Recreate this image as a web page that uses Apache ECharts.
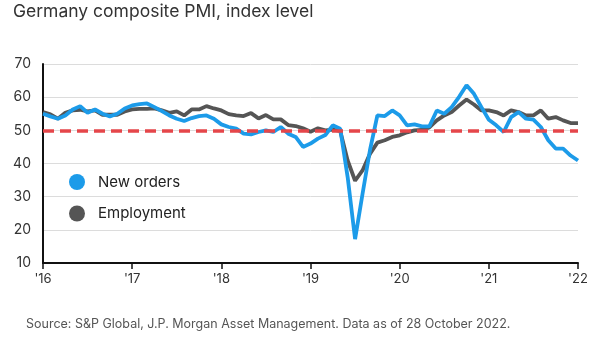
<!DOCTYPE html>
<html>
<head>
<meta charset="utf-8">
<script src="https://cdn.jsdelivr.net/npm/echarts@6/dist/echarts.min.js"></script>
<style>
html,body{margin:0;padding:0;background:#fff;}
#chart{width:600px;height:340px;}
</style>
</head>
<body>
<div id="chart"></div>
<script>
var titleText = 'Germany composite PMI, index level';
var sourceText = 'Source: S&P Global, J.P. Morgan Asset Management. Data as of 28 October 2022.';
var tickLabels = ["'16", "'17", "'18", "'19", "'20", "'21", "'22"];
var seriesNames = ['New orders', 'Employment'];
var threshold = 50;

var newOrders = [
  55.0, 54.2, 53.5, 54.5, 56.3, 57.3, 55.3, 56.3, 55.0, 54.2, 55.0, 56.6,
  57.5, 57.9, 58.1, 57.0, 55.8, 54.5, 53.5, 52.8, 53.7, 54.3, 54.5, 53.5,
  51.8, 51.0, 50.5, 49.0, 48.8, 49.5, 50.0, 49.5, 51.0, 49.0, 48.0, 45.0,
  46.0, 47.5, 48.6, 51.5, 50.5, 35.9, 17.2, 30.8, 44.0, 54.5, 54.3, 56.0,
  54.5, 51.5, 51.8, 51.2, 51.2, 56.0, 55.0, 57.0, 60.1, 63.6, 61.0, 57.0,
  53.2, 51.5, 49.5, 54.0, 55.5, 53.5, 53.2, 51.0, 47.0, 44.5, 44.5, 42.4,
  40.9
];
var employment = [
  55.5, 54.8, 53.5, 55.3, 56.0, 56.2, 55.7, 56.0, 54.7, 54.7, 54.7, 55.7,
  56.3, 56.5, 56.5, 56.6, 56.0, 55.3, 55.7, 54.5, 56.3, 56.3, 57.3, 56.6,
  56.0, 54.9, 54.5, 54.3, 55.2, 53.6, 54.6, 53.3, 53.3, 51.6, 51.3, 50.6,
  49.6, 50.6, 50.0, 50.2, 49.8, 40.9, 34.8, 37.9, 42.9, 46.3, 47.0, 48.0,
  48.5, 49.4, 50.0, 50.1, 50.9, 53.0, 54.5, 55.5, 57.5, 59.3, 57.8, 56.0,
  56.0, 55.5, 54.5, 56.0, 55.5, 54.5, 54.5, 56.0, 53.5, 54.0, 53.0, 52.2,
  52.2
];

var categories = newOrders.map(function (_, i) { return i; });

var chart = echarts.init(document.getElementById('chart'), null, {renderer: 'canvas'});
var fontFam = 'Inter, "Noto Sans", sans-serif';

chart.setOption({
  animation: false,
  backgroundColor: '#ffffff',
  title: [
    {text: titleText, left: 13, top: 3, padding: 0,
     textStyle: {fontFamily: fontFam, fontSize: 17.5, fontWeight: 'normal', color: '#333'}},
    {text: sourceText, left: 26, top: 318, padding: 0,
     textStyle: {fontFamily: fontFam, fontSize: 12.5, fontWeight: 'normal', color: '#555'}}
  ],
  legend: {
    orient: 'vertical', left: 69, top: 174, itemGap: 15.5, padding: 0,
    itemWidth: 16, itemHeight: 16, icon: 'circle',
    data: seriesNames,
    textStyle: {fontFamily: fontFam, fontSize: 15, color: '#222', padding: [0, 0, 0, 8]}
  },
  grid: {left: 43, right: 22, top: 64, bottom: 77, containLabel: false},
  xAxis: {
    type: 'category', data: categories, boundaryGap: false,
    axisLine: {lineStyle: {color: '#111', width: 2}},
    axisTick: {show: true, length: 6, lineStyle: {color: '#111', width: 1.5},
               interval: function (i) { return i % 12 === 0; }},
    axisLabel: {interval: function (i) { return i % 12 === 0; },
                formatter: function (v, i) { return tickLabels[i / 12]; },
                margin: 10, fontFamily: fontFam, fontSize: 13, color: '#333'},
    splitLine: {show: false}
  },
  yAxis: {
    type: 'value', min: 10, max: 70, interval: 10,
    axisLine: {show: true, lineStyle: {color: '#111', width: 2}},
    axisTick: {show: false},
    axisLabel: {margin: 12, fontFamily: fontFam, fontSize: 14, color: '#333'},
    splitLine: {lineStyle: {color: '#dcdcdc', width: 1}}
  },
  series: [
    {
      name: 'threshold', type: 'line', data: [], silent: true, z: 1,
      markLine: {
        silent: true, symbol: 'none', label: {show: false},
        lineStyle: {color: '#e5464a', width: 3.5, type: [11, 6]},
        data: [{yAxis: threshold}]
      }
    },
    {
      name: seriesNames[1], type: 'line', data: employment, z: 2,
      symbol: 'none', smooth: false,
      itemStyle: {color: '#555555'},
      lineStyle: {color: '#555555', width: 3.8}
    },
    {
      name: seriesNames[0], type: 'line', data: newOrders, z: 3,
      symbol: 'none', smooth: false,
      itemStyle: {color: '#1c9be9'},
      lineStyle: {color: '#1c9be9', width: 3.8}
    }
  ]
});
</script>
</body>
</html>
